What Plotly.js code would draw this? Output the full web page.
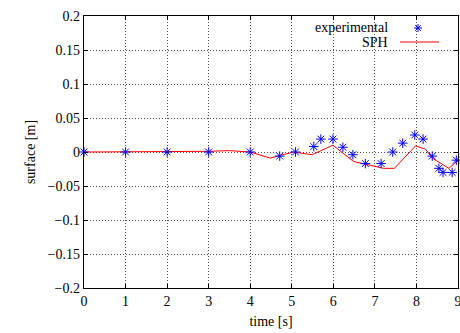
<!DOCTYPE html>
<html>
<head>
<meta charset="utf-8">
<script src="https://cdn.plot.ly/plotly-3.0.1.min.js"></script>
<style>html,body{margin:0;padding:0;background:#fff;overflow:hidden;}#chart{width:460px;height:333px;}</style>
</head>
<body>
<div id="chart"></div>
<script>
// Experimental measurements
const expTime = [0, 1, 2, 3, 4, 4.71, 5.09, 5.53, 5.70, 5.99, 6.23, 6.47, 6.77, 7.15, 7.43, 7.67, 7.96, 8.16, 8.38, 8.54, 8.64, 8.86, 8.96];
const expSurface = [0, 0, 0, 0, 0, -0.006, 0, 0.008, 0.019, 0.019, 0.007, -0.004, -0.017, -0.017, 0, 0.013, 0.025, 0.019, -0.006, -0.024, -0.030, -0.030, -0.012];
// SPH simulation
const sphTime = [0, 1, 2, 3, 3.5, 4, 4.48, 5.04, 5.49, 5.99, 6.49, 7.21, 7.47, 7.98, 8.22, 8.38, 8.78, 8.96, 9.0];
const sphSurface = [0, 0, 0, 0.001, 0.002, 0.0, -0.009, 0.0, -0.004, 0.010, -0.014, -0.024, -0.024, 0.009, 0.004, -0.009, -0.024, -0.014, -0.012];
// Tick labels
const xTicks = [0, 1, 2, 3, 4, 5, 6, 7, 8, 9];
const yTicks = [-0.2, -0.15, -0.1, -0.05, 0, 0.05, 0.1, 0.15, 0.2];

const font = {family: '"Liberation Serif", "Times New Roman", serif', size: 14, color: '#000'};

const traces = [
  {x: sphTime, y: sphSurface, mode: 'lines', name: 'SPH',
   line: {color: '#ff0000', width: 1}, showlegend: false, cliponaxis: true},
  {x: expTime, y: expSurface, mode: 'markers', name: 'experimental',
   marker: {symbol: 'asterisk-open', size: 8, color: '#0000ff', line: {color: '#0000ff', width: 1}},
   showlegend: false, cliponaxis: false}
];

const axisCommon = {
  showline: true, linecolor: '#000', linewidth: 1.2, mirror: 'ticks',
  ticks: 'inside', ticklen: 4, tickcolor: '#000', tickwidth: 1,
  showgrid: true, gridcolor: 'rgba(0,0,0,0.7)', gridwidth: 1, griddash: '1px,2px',
  zeroline: false, tickfont: font, ticklabeloverflow: 'allow'
};

const W = 460, H = 333, L = 84, R = 2, T = 16, B = 45;
const pw = W - L - R, ph = H - T - B;
function px(x) { return (x - L) / pw; }
function py(y) { return 1 - (y - T) / ph; }

const layout = {
  width: W, height: H,
  margin: {l: L, r: R, t: T, b: B},
  paper_bgcolor: '#fff', plot_bgcolor: '#fff',
  font: font,
  showlegend: false,
  xaxis: Object.assign({}, axisCommon, {
    range: [0, 9], tickvals: xTicks, ticktext: xTicks.map(String),
    title: {text: 'time [s]', font: font, standoff: 8}
  }),
  yaxis: Object.assign({}, axisCommon, {
    range: [-0.2, 0.2], tickvals: yTicks,
    ticktext: yTicks.map(v => (v < 0 ? '\u2212' : '') + String(Math.abs(v))),
    title: {text: 'surface [m]', font: font, standoff: 8}
  }),
  annotations: [
    {xref: 'paper', yref: 'paper', x: px(390), y: py(28), xanchor: 'right', yanchor: 'middle',
     text: 'experimental', showarrow: false, font: font},
    {xref: 'paper', yref: 'paper', x: px(390), y: py(42), xanchor: 'right', yanchor: 'middle',
     text: 'SPH', showarrow: false, font: font}
  ],
  shapes: [
    {type: 'line', xref: 'paper', yref: 'paper', x0: px(400), x1: px(439), y0: py(42), y1: py(42),
     line: {color: '#ff0000', width: 1}},
    {type: 'path', xref: 'paper', yref: 'paper',
     path: (function(){
       const cx = 418, cy = 28, r = 4, d = r * 0.707;
       const seg = (x0,y0,x1,y1) => 'M' + px(x0) + ',' + py(y0) + 'L' + px(x1) + ',' + py(y1);
       return seg(cx - r, cy, cx + r, cy) + seg(cx, cy - r, cx, cy + r) +
              seg(cx - d, cy - d, cx + d, cy + d) + seg(cx - d, cy + d, cx + d, cy - d);
     })(),
     line: {color: '#0000ff', width: 1}}
  ]
};

Plotly.newPlot('chart', traces, layout, {displayModeBar: false, staticPlot: true});
</script>
</body>
</html>
